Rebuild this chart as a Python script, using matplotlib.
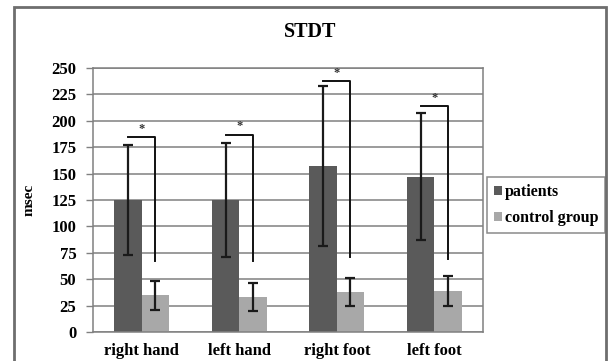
"""STDT bar chart: patients vs control group, with SD error bars and significance brackets."""

import matplotlib

matplotlib.use("Agg")
import matplotlib.pyplot as plt
import numpy as np
from matplotlib.patches import Rectangle

categories = ["right hand", "left hand", "right foot", "left foot"]
patients_mean = [125, 125, 157, 147]
patients_sd = [52, 54, 75.5, 60]
control_mean = [35, 33, 37.5, 39]
control_sd = [13.7, 13.4, 13.2, 14.3]
bracket_top = [185, 187, 238, 214]
bracket_bottom = [67, 67, 71, 69]
y_ticks = list(range(0, 251, 25))

PATIENT_COLOR = "#5a5a5a"
CONTROL_COLOR = "#a8a8a8"
FONT = "Liberation Serif"


def main() -> None:
    plt.rcParams["font.family"] = FONT
    plt.rcParams["font.weight"] = "bold"

    fig = plt.figure(figsize=(6.09, 3.61), dpi=100)
    # outer chart border, cut off at the bottom edge like the source
    fig.patches.append(
        Rectangle((14 / 609, -0.05), 592 / 609, 1.05 - 7 / 361, transform=fig.transFigure,
                  fill=False, edgecolor="#6e6e6e", linewidth=2)
    )
    ax = fig.add_axes([93 / 609, 1 - 332 / 361, 390 / 609, 264 / 361])

    x = np.arange(len(categories))
    width = 0.28
    xp = x - width / 2
    xc = x + width / 2

    ax.bar(xp, patients_mean, width, color=PATIENT_COLOR, label="patients", zorder=2)
    ax.bar(xc, control_mean, width, color=CONTROL_COLOR, label="control group", zorder=2)
    ax.errorbar(xp, patients_mean, yerr=patients_sd, fmt="none", ecolor="#1a1a1a",
                elinewidth=1.6, capsize=3.5, capthick=1.6, zorder=3)
    ax.errorbar(xc, control_mean, yerr=control_sd, fmt="none", ecolor="#1a1a1a",
                elinewidth=1.6, capsize=3.5, capthick=1.6, zorder=3)

    for i in range(len(categories)):
        ax.plot([xp[i], xc[i], xc[i]], [bracket_top[i], bracket_top[i], bracket_bottom[i]],
                color="#111111", linewidth=1.4, zorder=4)
        ax.text(x[i], bracket_top[i] + 2, "*", ha="center", va="bottom",
                fontsize=9, color="#333333")

    ax.set_xlim(-0.5, 3.5)
    ax.set_ylim(0, 250)
    ax.set_yticks(y_ticks)
    ax.set_yticklabels([str(t) for t in y_ticks], fontsize=12, fontweight="bold")
    ax.set_xticks(x)
    ax.set_xticklabels(categories, fontsize=12, fontweight="bold")
    ax.tick_params(axis="x", length=0, pad=8)
    ax.tick_params(axis="y", length=5, width=1, color="#808080", direction="out", pad=7)
    ax.yaxis.grid(True, color="#808080", linewidth=1.1, zorder=0)
    ax.set_axisbelow(True)
    for side in ["left", "right", "top", "bottom"]:
        ax.spines[side].set_color("#808080")
        ax.spines[side].set_linewidth(1.1)

    ax.set_ylabel("msec", fontsize=11, fontweight="bold", labelpad=11)
    fig.text(310 / 609, 1 - 32 / 361, "STDT", ha="center", va="center",
             fontsize=14.5, fontweight="bold")

    leg = ax.legend(loc="upper left", bbox_to_anchor=(487 / 609, 1 - 177 / 361),
                    bbox_transform=fig.transFigure, frameon=True, fancybox=False,
                    prop={"family": FONT, "weight": "bold", "size": 11.5},
                    handlelength=0.5, handleheight=0.5, handletextpad=0.15,
                    borderpad=0.45, labelspacing=0.6, borderaxespad=0)
    leg.get_frame().set_edgecolor("#6e6e6e")
    leg.get_frame().set_linewidth(1.1)

    fig.savefig("out.png", dpi=100)


if __name__ == "__main__":
    main()
